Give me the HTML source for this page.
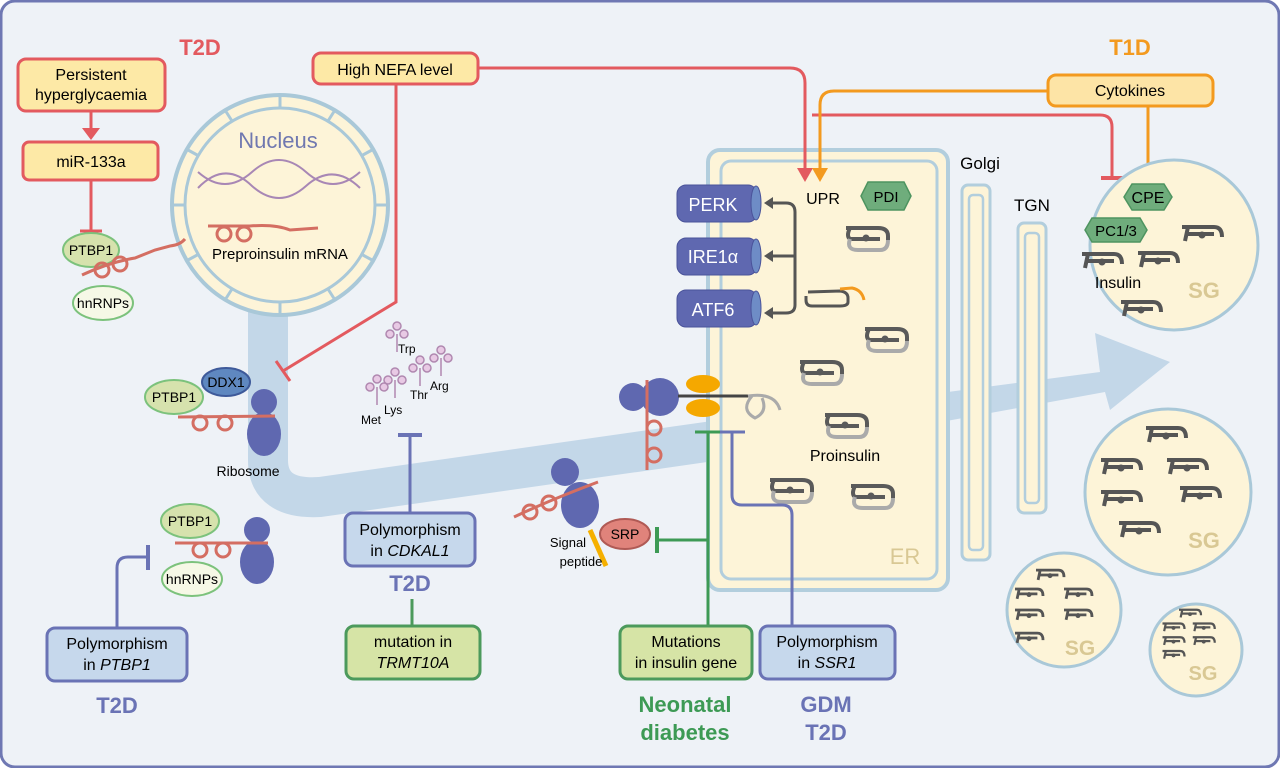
<!DOCTYPE html>
<html><head><meta charset="utf-8"><style>
html,body{margin:0;padding:0;background:#fff}
svg{display:block}
text{font-family:"Liberation Sans",sans-serif}
</style></head><body>
<svg width="1280" height="768" viewBox="0 0 1280 768" xmlns="http://www.w3.org/2000/svg">
<defs>
<g id="ins">
<path d="M-20,-8 L12,-8 Q22,-8 22,0 L22,4" fill="none" stroke="#5a5a5a" stroke-width="4"/>
<path d="M-16,-8 Q-20,0 -16,3 L14,3" fill="none" stroke="#5a5a5a" stroke-width="4"/>
<path d="M-16,3 Q-20,14 -8,14 L14,14 Q22,14 22,4" fill="none" stroke="#aaa" stroke-width="4"/>
<circle cx="0" cy="2" r="3.5" fill="#5a5a5a"/>
</g>
<g id="ins2">
<path d="M-20,-5 L12,-5 Q20,-5 20,5" fill="none" stroke="#555" stroke-width="4"/>
<path d="M-16,2 L12,2" fill="none" stroke="#555" stroke-width="4"/>
<path d="M-14,-5 L-17,9" fill="none" stroke="#555" stroke-width="4"/>
<circle cx="0" cy="3" r="3.5" fill="#555"/>
</g>
<g id="trna" fill="#e8c9e4" stroke="#b088b0" stroke-width="1.5">
<line x1="0" y1="0" x2="0" y2="18"/><circle cx="0" cy="-8" r="4"/><circle cx="-7" cy="0" r="4"/><circle cx="7" cy="0" r="4"/>
</g>
<g id="rib" fill="#5f68b0">
<circle cx="0" cy="-18" r="13"/><ellipse cx="0" cy="14" rx="17" ry="22"/>
</g>
</defs>
<rect x="1" y="1" width="1278" height="766" rx="14" fill="#eef2f7" stroke="#6f78b3" stroke-width="3"/>

<!-- blue band -->
<path d="M268,300 L268,460 Q268,500 320,497 L720,440" fill="none" stroke="#c3d7e8" stroke-width="40"/>
<polygon points="720,422 1100,372 1095,333 1170,362 1110,410 1105,392 722,462" fill="#c3d7e8"/>

<!-- nucleus -->
<ellipse cx="280" cy="205" rx="108" ry="110" fill="#fdf4d8" stroke="#a9c8d8" stroke-width="4"/>
<ellipse cx="280" cy="205" rx="95" ry="97" fill="#fdf4d8" stroke="#a9c8d8" stroke-width="3"/>
<g stroke="#a9c8d8" stroke-width="3">
<line x1="280" y1="95" x2="280" y2="108"/><line x1="335" y1="110" x2="328" y2="121"/><line x1="372" y1="150" x2="361" y2="156"/><line x1="388" y1="205" x2="375" y2="205"/><line x1="372" y1="260" x2="361" y2="254"/><line x1="335" y1="300" x2="328" y2="289"/><line x1="280" y1="315" x2="280" y2="302"/><line x1="225" y1="300" x2="232" y2="289"/><line x1="188" y1="260" x2="199" y2="254"/><line x1="172" y1="205" x2="185" y2="205"/><line x1="188" y1="150" x2="199" y2="156"/><line x1="225" y1="110" x2="232" y2="121"/>
</g>
<text x="278" y="148" font-size="22" fill="#7078b0" text-anchor="middle">Nucleus</text>
<path d="M198,172 Q225,196 252,172 Q279,148 306,172 Q333,196 360,172" fill="none" stroke="#a887b5" stroke-width="2"/>
<path d="M198,188 Q225,160 252,186 Q279,210 306,186 Q333,162 360,188" fill="none" stroke="#a887b5" stroke-width="2"/>
<path d="M208,226 L250,226 Q275,224 290,230 L318,228" fill="none" stroke="#d46e62" stroke-width="3"/>
<circle cx="224" cy="234" r="7" fill="none" stroke="#d46e62" stroke-width="3"/><circle cx="244" cy="234" r="7" fill="none" stroke="#d46e62" stroke-width="3"/>
<text x="280" y="259" font-size="15" text-anchor="middle">Preproinsulin mRNA</text>

<!-- T2D top-left -->
<text x="200" y="55" font-size="22" font-weight="bold" fill="#e35a5f" text-anchor="middle">T2D</text>
<rect x="18" y="59" width="147" height="52" rx="8" fill="#fde9a6" stroke="#e35a5f" stroke-width="3"/>
<text x="91" y="80" font-size="16" text-anchor="middle">Persistent</text>
<text x="91" y="100" font-size="16" text-anchor="middle">hyperglycaemia</text>
<line x1="91" y1="111" x2="91" y2="128" stroke="#e35a5f" stroke-width="3"/>
<polygon points="82,128 100,128 91,140" fill="#e35a5f"/>
<rect x="23" y="142" width="135" height="38" rx="6" fill="#fde9a6" stroke="#e35a5f" stroke-width="3"/>
<text x="91" y="167" font-size="16" text-anchor="middle">miR-133a</text>
<line x1="91" y1="180" x2="91" y2="231" stroke="#e35a5f" stroke-width="3"/>
<line x1="80" y1="231" x2="102" y2="231" stroke="#e35a5f" stroke-width="3"/>
<ellipse cx="91" cy="250" rx="28" ry="17" fill="#d6e2ad" stroke="#7cc27c" stroke-width="2"/>
<text x="91" y="255" font-size="14" text-anchor="middle">PTBP1</text>
<ellipse cx="103" cy="303" rx="30" ry="17" fill="#f6f8e6" stroke="#7cc27c" stroke-width="2"/>
<text x="103" y="308" font-size="14" text-anchor="middle">hnRNPs</text>
<path d="M82,275 Q110,262 135,258 L155,250 L170,246 Q180,245 185,239" fill="none" stroke="#d46e62" stroke-width="3"/>
<circle cx="102" cy="270" r="7" fill="none" stroke="#d46e62" stroke-width="3"/><circle cx="120" cy="264" r="7" fill="none" stroke="#d46e62" stroke-width="3"/>

<!-- NEFA -->
<rect x="313" y="53" width="165" height="31" rx="8" fill="#fde9a6" stroke="#e35a5f" stroke-width="3"/>
<text x="395" y="75" font-size="16" text-anchor="middle">High NEFA level</text>
<path d="M396,84 L396,302 L283,371" fill="none" stroke="#e35a5f" stroke-width="3"/>
<line x1="276" y1="361" x2="290" y2="381" stroke="#e35a5f" stroke-width="3"/>
<path d="M478,68 L790,68 Q805,68 805,83 L805,150" fill="none" stroke="#e35a5f" stroke-width="3"/>
<path d="M812,115 L1100,115 Q1112,115 1112,127 L1112,178" fill="none" stroke="#e35a5f" stroke-width="3"/>
<line x1="1101" y1="178" x2="1123" y2="178" stroke="#e35a5f" stroke-width="4"/>

<!-- T1D -->
<text x="1130" y="55" font-size="22" font-weight="bold" fill="#f39a1f" text-anchor="middle">T1D</text>
<rect x="1048" y="75" width="165" height="31" rx="8" fill="#fde4a6" stroke="#f39a1f" stroke-width="3"/>
<text x="1130" y="96" font-size="16" text-anchor="middle">Cytokines</text>
<path d="M1048,91 L834,91 Q820,91 820,105 L820,150" fill="none" stroke="#f39a1f" stroke-width="3"/>
<line x1="1148" y1="106" x2="1148" y2="178" stroke="#f39a1f" stroke-width="3"/>
<line x1="1137" y1="178" x2="1159" y2="178" stroke="#f39a1f" stroke-width="4"/>

<!-- ER -->
<rect x="708" y="150" width="240" height="440" rx="12" fill="#fdf4d8" stroke="#b2cedd" stroke-width="4"/>
<rect x="721" y="161" width="216" height="418" rx="10" fill="#fdf4d8" stroke="#b2cedd" stroke-width="3"/>
<line x1="805" y1="148" x2="805" y2="170" stroke="#e35a5f" stroke-width="3"/>
<polygon points="797,168 813,168 805,182" fill="#e35a5f"/>
<line x1="820" y1="148" x2="820" y2="170" stroke="#f39a1f" stroke-width="3"/>
<polygon points="812,168 828,168 820,182" fill="#f39a1f"/>
<text x="905" y="564" font-size="22" fill="#d9c894" text-anchor="middle">ER</text>
<text x="823" y="204" font-size="16" text-anchor="middle">UPR</text>
<polygon points="868,182 904,182 911,196 904,210 868,210 861,196" fill="#6fad7c" stroke="#4e9460" stroke-width="1.5"/>
<text x="886" y="202" font-size="15" text-anchor="middle">PDI</text>
<g fill="#5f68b0" stroke="#4a539a">
<rect x="677" y="185" width="80" height="37" rx="9"/><ellipse cx="756" cy="203" rx="5" ry="17" fill="#6e8cc6"/>
<rect x="677" y="238" width="80" height="37" rx="9"/><ellipse cx="756" cy="256" rx="5" ry="17" fill="#6e8cc6"/>
<rect x="677" y="290" width="80" height="37" rx="9"/><ellipse cx="756" cy="308" rx="5" ry="17" fill="#6e8cc6"/>
</g>
<text x="713" y="211" font-size="18" fill="#fff" text-anchor="middle">PERK</text>
<text x="713" y="263" font-size="18" fill="#fff" text-anchor="middle">IRE1α</text>
<text x="713" y="316" font-size="18" fill="#fff" text-anchor="middle">ATF6</text>
<path d="M770,203 L786,203 Q795,203 795,212 L795,305 Q795,313 786,313 L770,313 M770,256 L795,256" fill="none" stroke="#555" stroke-width="3"/>
<polygon points="764,203 773,197 773,209" fill="#555"/><polygon points="764,256 773,250 773,262" fill="#555"/><polygon points="764,313 773,307 773,319" fill="#555"/>
<path d="M808,292 L840,291 Q848,292 848,298 L848,302 Q848,306 840,306 L812,306 Q806,306 806,300 L806,296" fill="none" stroke="#555" stroke-width="3"/>
<path d="M840,289 L852,288 Q862,290 864,300" fill="none" stroke="#f39a1f" stroke-width="3"/>
<use href="#ins" x="866" y="236"/><use href="#ins" x="885" y="337"/><use href="#ins" x="820" y="370"/>
<use href="#ins" x="845" y="423"/><use href="#ins" x="790" y="488"/><use href="#ins" x="871" y="494"/>
<text x="845" y="461" font-size="16" text-anchor="middle">Proinsulin</text>

<!-- Golgi -->
<text x="980" y="169" font-size="17" text-anchor="middle">Golgi</text>
<rect x="962" y="185" width="28" height="375" rx="6" fill="#fdf4d8" stroke="#b2cedd" stroke-width="3"/>
<rect x="969" y="195" width="14" height="355" rx="4" fill="none" stroke="#b2cedd" stroke-width="2.5"/>
<text x="1032" y="211" font-size="17" text-anchor="middle">TGN</text>
<rect x="1018" y="223" width="28" height="290" rx="6" fill="#fdf4d8" stroke="#b2cedd" stroke-width="3"/>
<rect x="1025" y="233" width="14" height="270" rx="4" fill="none" stroke="#b2cedd" stroke-width="2.5"/>

<!-- SG -->
<ellipse cx="1174" cy="245" rx="84" ry="85" fill="#fdf4d8" stroke="#a9c8d8" stroke-width="3"/>
<polygon points="1132,184 1164,184 1172,197 1164,210 1132,210 1124,197" fill="#6fad7c" stroke="#4e9460" stroke-width="1.5"/>
<text x="1148" y="203" font-size="16" text-anchor="middle">CPE</text>
<polygon points="1092,218 1140,218 1147,230 1140,242 1092,242 1085,230" fill="#6fad7c" stroke="#4e9460" stroke-width="1.5"/>
<text x="1116" y="236" font-size="15" text-anchor="middle">PC1/3</text>
<use href="#ins2" x="1202" y="232"/><use href="#ins2" x="1102" y="259"/><use href="#ins2" x="1158" y="258"/><use href="#ins2" x="1141" y="307"/>
<text x="1118" y="288" font-size="16" text-anchor="middle">Insulin</text>
<text x="1204" y="298" font-size="22" font-weight="bold" fill="#d9c894" text-anchor="middle">SG</text>

<ellipse cx="1168" cy="492" rx="83" ry="83" fill="#fdf4d8" stroke="#a9c8d8" stroke-width="3"/>
<use href="#ins2" x="1166" y="433"/><use href="#ins2" x="1121" y="465"/><use href="#ins2" x="1187" y="465"/><use href="#ins2" x="1121" y="497"/><use href="#ins2" x="1200" y="493"/><use href="#ins2" x="1139" y="528"/>
<text x="1204" y="548" font-size="22" font-weight="bold" fill="#d9c894" text-anchor="middle">SG</text>

<ellipse cx="1064" cy="610" rx="57" ry="57" fill="#fdf4d8" stroke="#a9c8d8" stroke-width="3"/>
<g transform="translate(1064,610) scale(0.7)">
<use href="#ins2" x="-20" y="-52"/><use href="#ins2" x="-50" y="-25"/><use href="#ins2" x="20" y="-25"/><use href="#ins2" x="-50" y="5"/><use href="#ins2" x="20" y="5"/><use href="#ins2" x="-50" y="38"/>
</g>
<text x="1080" y="655" font-size="21" font-weight="bold" fill="#d9c894" text-anchor="middle">SG</text>
<ellipse cx="1196" cy="650" rx="46" ry="46" fill="#fdf4d8" stroke="#a9c8d8" stroke-width="3"/>
<g transform="translate(1190,640) scale(0.55)">
<use href="#ins2" x="0" y="-50"/><use href="#ins2" x="-30" y="-25"/><use href="#ins2" x="25" y="-25"/><use href="#ins2" x="-30" y="0"/><use href="#ins2" x="25" y="0"/><use href="#ins2" x="-30" y="25"/>
</g>
<text x="1203" y="680" font-size="20" font-weight="bold" fill="#d9c894" text-anchor="middle">SG</text>

<!-- ribosome left -->
<ellipse cx="226" cy="382" rx="24" ry="14" fill="#5f88c0" stroke="#3e5a9a" stroke-width="2"/>
<text x="226" y="387" font-size="14" text-anchor="middle">DDX1</text>
<ellipse cx="174" cy="397" rx="29" ry="17" fill="#d6e2ad" stroke="#7cc27c" stroke-width="2"/>
<text x="174" y="402" font-size="14" text-anchor="middle">PTBP1</text>
<use href="#rib" x="264" y="420"/>
<path d="M178,417 L275,416" fill="none" stroke="#d46e62" stroke-width="3"/>
<circle cx="200" cy="423" r="7" fill="none" stroke="#d46e62" stroke-width="3"/><circle cx="225" cy="423" r="7" fill="none" stroke="#d46e62" stroke-width="3"/>
<text x="248" y="476" font-size="14" text-anchor="middle">Ribosome</text>

<ellipse cx="190" cy="521" rx="29" ry="17" fill="#d6e2ad" stroke="#7cc27c" stroke-width="2"/>
<text x="190" y="526" font-size="14" text-anchor="middle">PTBP1</text>
<ellipse cx="192" cy="579" rx="30" ry="17" fill="#f6f8e6" stroke="#7cc27c" stroke-width="2"/>
<text x="192" y="584" font-size="14" text-anchor="middle">hnRNPs</text>
<use href="#rib" x="257" y="548"/>
<path d="M175,543 L268,543" fill="none" stroke="#d46e62" stroke-width="3"/>
<circle cx="200" cy="550" r="7" fill="none" stroke="#d46e62" stroke-width="3"/><circle cx="223" cy="550" r="7" fill="none" stroke="#d46e62" stroke-width="3"/>

<!-- tRNAs -->
<use href="#trna" x="377" y="387"/><use href="#trna" x="395" y="380"/><use href="#trna" x="397" y="334"/><use href="#trna" x="420" y="368"/><use href="#trna" x="441" y="358"/>
<g font-size="12"><text x="398" y="353">Trp</text><text x="430" y="390">Arg</text><text x="410" y="399">Thr</text><text x="384" y="414">Lys</text><text x="361" y="424">Met</text></g>

<!-- CDKAL1 -->
<line x1="410" y1="435" x2="410" y2="513" stroke="#6a73b5" stroke-width="3"/>
<line x1="398" y1="435" x2="422" y2="435" stroke="#6a73b5" stroke-width="4"/>
<rect x="345" y="513" width="130" height="53" rx="8" fill="#c6d8ec" stroke="#6a73b5" stroke-width="3"/>
<text x="410" y="535" font-size="16" text-anchor="middle">Polymorphism</text>
<text x="410" y="556" font-size="16" text-anchor="middle">in <tspan font-style="italic">CDKAL1</tspan></text>
<text x="410" y="591" font-size="22" font-weight="bold" fill="#6a73b5" text-anchor="middle">T2D</text>
<line x1="412" y1="599" x2="412" y2="626" stroke="#4c9a5c" stroke-width="3"/>
<rect x="346" y="626" width="134" height="53" rx="8" fill="#d6e4a6" stroke="#4c9a5c" stroke-width="3"/>
<text x="413" y="647" font-size="16" text-anchor="middle">mutation in</text>
<text x="413" y="668" font-size="16" font-style="italic" text-anchor="middle">TRMT10A</text>

<!-- PTBP1 polymorphism -->
<path d="M117,628 L117,568 Q117,557 128,557 L148,557" fill="none" stroke="#6a73b5" stroke-width="3"/>
<line x1="148" y1="545" x2="148" y2="570" stroke="#6a73b5" stroke-width="4"/>
<rect x="47" y="628" width="140" height="53" rx="8" fill="#c6d8ec" stroke="#6a73b5" stroke-width="3"/>
<text x="117" y="649" font-size="16" text-anchor="middle">Polymorphism</text>
<text x="117" y="670" font-size="16" text-anchor="middle">in <tspan font-style="italic">PTBP1</tspan></text>
<text x="117" y="713" font-size="22" font-weight="bold" fill="#6a73b5" text-anchor="middle">T2D</text>

<!-- ER-bound ribosome -->
<circle cx="633" cy="397" r="14" fill="#5f68b0"/><circle cx="660" cy="397" r="19" fill="#5f68b0"/>
<line x1="678" y1="396" x2="750" y2="396" stroke="#444" stroke-width="3"/>
<ellipse cx="703" cy="384" rx="17" ry="9" fill="#f5a800"/><ellipse cx="703" cy="408" rx="17" ry="9" fill="#f5a800"/>
<path d="M748,396 Q775,392 780,410 M752,396 Q740,410 755,418 Q768,412 762,398" fill="none" stroke="#aaa" stroke-width="3"/>
<path d="M647,380 L647,470" stroke="#d46e62" stroke-width="3"/>
<circle cx="654" cy="428" r="7" fill="none" stroke="#d46e62" stroke-width="3"/><circle cx="654" cy="455" r="7" fill="none" stroke="#d46e62" stroke-width="3"/>

<!-- SRP ribosome -->
<circle cx="565" cy="472" r="14" fill="#5f68b0"/><ellipse cx="580" cy="505" rx="19" ry="23" fill="#5f68b0"/>
<path d="M514,517 Q550,500 598,482" fill="none" stroke="#d46e62" stroke-width="3"/>
<circle cx="530" cy="512" r="7" fill="none" stroke="#d46e62" stroke-width="3"/><circle cx="549" cy="503" r="7" fill="none" stroke="#d46e62" stroke-width="3"/>
<line x1="590" y1="530" x2="606" y2="566" stroke="#f5b000" stroke-width="5"/>
<ellipse cx="625" cy="534" rx="25" ry="15" fill="#e0837b" stroke="#b05a55" stroke-width="2"/>
<text x="625" y="539" font-size="14" text-anchor="middle">SRP</text>
<text x="568" y="547" font-size="13" text-anchor="middle">Signal</text>
<text x="581" y="566" font-size="13" text-anchor="middle">peptide</text>

<!-- green & blue lines -->
<line x1="708" y1="432" x2="708" y2="626" stroke="#3d9a55" stroke-width="3"/>
<line x1="695" y1="432" x2="721" y2="432" stroke="#3d9a55" stroke-width="3"/>
<line x1="657" y1="540" x2="708" y2="540" stroke="#3d9a55" stroke-width="3"/>
<line x1="657" y1="527" x2="657" y2="553" stroke="#3d9a55" stroke-width="4"/>
<path d="M792,626 L792,515 Q792,505 782,505 L742,505 Q732,505 732,495 L732,432" fill="none" stroke="#6a73b5" stroke-width="3"/>
<line x1="720" y1="432" x2="745" y2="432" stroke="#6a73b5" stroke-width="3"/>

<rect x="620" y="626" width="132" height="53" rx="8" fill="#d6e4a6" stroke="#4c9a5c" stroke-width="3"/>
<text x="686" y="647" font-size="16" text-anchor="middle">Mutations</text>
<text x="686" y="668" font-size="16" text-anchor="middle">in insulin gene</text>
<text x="685" y="712" font-size="22" font-weight="bold" fill="#3d9a55" text-anchor="middle">Neonatal</text>
<text x="685" y="740" font-size="22" font-weight="bold" fill="#3d9a55" text-anchor="middle">diabetes</text>
<rect x="760" y="626" width="135" height="53" rx="8" fill="#c6d8ec" stroke="#6a73b5" stroke-width="3"/>
<text x="827" y="647" font-size="16" text-anchor="middle">Polymorphism</text>
<text x="827" y="668" font-size="16" text-anchor="middle">in <tspan font-style="italic">SSR1</tspan></text>
<text x="826" y="712" font-size="22" font-weight="bold" fill="#6a73b5" text-anchor="middle">GDM</text>
<text x="826" y="740" font-size="22" font-weight="bold" fill="#6a73b5" text-anchor="middle">T2D</text>
</svg>
</body></html>
